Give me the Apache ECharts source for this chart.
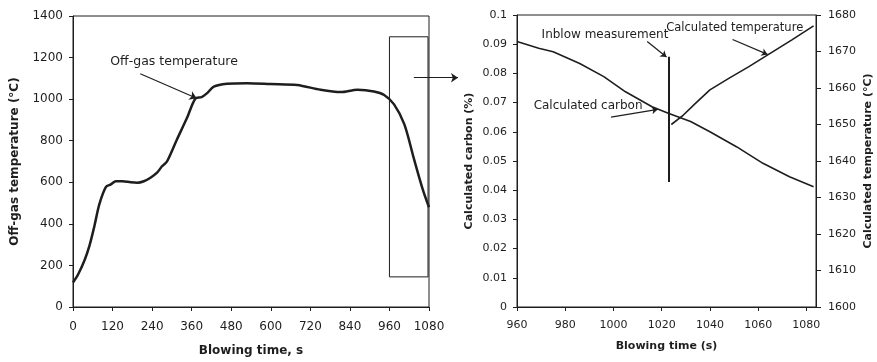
<!DOCTYPE html>
<html>
<head>
<meta charset="utf-8">
<script src="https://cdn.jsdelivr.net/npm/echarts@6/dist/echarts.min.js"></script>
<style>
  html, body { margin: 0; padding: 0; background: #fff; }
  #chart { width: 877px; height: 362px; }
</style>
</head>
<body>
<div id="chart"></div>
<script>
// left panel: off-gas temperature during the whole blow
const blowTime = [0, 15, 35, 50, 65, 80, 100, 115, 130, 150, 175, 195, 215, 235, 255, 270, 285, 315, 346, 371, 390, 407, 427, 467, 528, 600, 680, 751, 812, 863, 913, 944, 974, 1005, 1035, 1061, 1080];
const offgasTemp = [118, 155, 225, 295, 390, 495, 578, 590, 605, 605, 600, 598, 605, 622, 646, 677, 700, 805, 910, 1002, 1010, 1029, 1060, 1074, 1077, 1073, 1068, 1045, 1034, 1045, 1037, 1020, 975, 880, 709, 566, 480];
const zoomBox = [[960, 145], [1077, 1300]];

// right panel: end of blow, calculated carbon and temperature
const carbonTime = [960, 969, 975, 986, 996, 1005, 1016, 1023, 1032, 1040, 1051, 1062, 1073, 1083];
const carbon = [0.0909, 0.0886, 0.0874, 0.0834, 0.0789, 0.0737, 0.0686, 0.0663, 0.0635, 0.06, 0.0549, 0.0492, 0.0446, 0.0412];
const tempTime = [1024, 1029, 1034, 1040, 1048, 1056, 1065, 1074, 1083];
const calcTemp = [1650, 1652.6, 1655.8, 1659.5, 1662.7, 1665.8, 1669.5, 1673.2, 1677];
const inblowTime = 1023;
const inblowSpan = [0.0428, 0.0857];

const INK = "#1e1e1e";
const FONT = "DejaVu Sans";

const chart = echarts.init(document.getElementById("chart"));

function zip(xs, ys) {
  return xs.map((x, i) => [x, ys[i]]);
}

function arrow(from, to) {
  return { coords: [from, to] };
}

// no thousands separator on the axes
const plain = (v) => String(v);

const axisBase = {
  axisLine: { show: true, lineStyle: { color: INK, width: 1 } },
  axisTick: { show: true, length: 4, lineStyle: { color: INK } },
  splitLine: { show: false },
  nameLocation: "middle",
};

const option = {
  animation: false,
  textStyle: { fontFamily: FONT, color: INK },
  grid: [
    { left: 73, right: 448, top: 16, bottom: 54, show: true, borderColor: INK, borderWidth: 1 },
    { left: 517, right: 61, top: 15, bottom: 55, show: true, borderColor: INK, borderWidth: 1 },
  ],
  xAxis: [
    {
      ...axisBase,
      gridIndex: 0,
      type: "value",
      min: 0,
      max: 1080,
      interval: 120,
      name: "Blowing time, s",
      nameGap: 38,
      nameTextStyle: { fontFamily: FONT, fontWeight: "bold", fontSize: 12, color: INK },
      axisLabel: { fontFamily: FONT, fontSize: 12, color: INK, margin: 14, formatter: plain },
    },
    {
      ...axisBase,
      gridIndex: 1,
      type: "value",
      min: 960,
      max: 1084,
      interval: 20,
      name: "Blowing time (s)",
      nameGap: 34,
      nameTextStyle: { fontFamily: FONT, fontWeight: "bold", fontSize: 11, color: INK },
      axisLabel: { fontFamily: FONT, fontSize: 11, color: INK, margin: 13, showMaxLabel: false, formatter: plain },
    },
  ],
  yAxis: [
    {
      ...axisBase,
      gridIndex: 0,
      type: "value",
      min: 0,
      max: 1400,
      interval: 200,
      name: "Off-gas temperature (°C)",
      nameGap: 52,
      nameTextStyle: { fontFamily: FONT, fontWeight: "bold", fontSize: 12, color: INK },
      axisLabel: { fontFamily: FONT, fontSize: 12, color: INK, margin: 10, formatter: plain },
    },
    {
      ...axisBase,
      gridIndex: 1,
      type: "value",
      min: 0,
      max: 0.1,
      interval: 0.01,
      name: "Calculated carbon (%)",
      nameGap: 42,
      nameTextStyle: { fontFamily: FONT, fontWeight: "bold", fontSize: 11, color: INK },
      axisLabel: { fontFamily: FONT, fontSize: 11, color: INK, margin: 10 },
    },
    {
      ...axisBase,
      gridIndex: 1,
      type: "value",
      position: "right",
      min: 1600,
      max: 1680,
      interval: 10,
      name: "Calculated temperature (°C)",
      nameGap: 47,
      nameTextStyle: { fontFamily: FONT, fontWeight: "bold", fontSize: 11, color: INK },
      axisTick: { show: true, length: 5, lineStyle: { color: INK } },
      axisLabel: { fontFamily: FONT, fontSize: 11, color: INK, margin: 12, formatter: plain },
    },
  ],
  series: [
    {
      name: "Off-gas temperature",
      type: "line",
      xAxisIndex: 0,
      yAxisIndex: 0,
      data: zip(blowTime, offgasTemp),
      smooth: 0.3,
      symbol: "none",
      lineStyle: { color: INK, width: 2.5 },
      markArea: {
        silent: true,
        itemStyle: { color: "rgba(0,0,0,0)", borderColor: INK, borderWidth: 1 },
        data: [[{ coord: zoomBox[0] }, { coord: zoomBox[1] }]],
      },
    },
    {
      type: "lines",
      coordinateSystem: "cartesian2d",
      xAxisIndex: 0,
      yAxisIndex: 0,
      clip: false,
      silent: true,
      symbol: ["none", "arrow"],
      symbolSize: 7,
      lineStyle: { color: INK, width: 1.2, opacity: 1 },
      data: [arrow([204, 1122], [375, 1004]), arrow([1034, 1103], [1168, 1103])],
    },
    {
      name: "Calculated carbon",
      type: "line",
      xAxisIndex: 1,
      yAxisIndex: 1,
      data: zip(carbonTime, carbon),
      symbol: "none",
      lineStyle: { color: INK, width: 1.6 },
    },
    {
      name: "Calculated temperature",
      type: "line",
      xAxisIndex: 1,
      yAxisIndex: 2,
      data: zip(tempTime, calcTemp),
      symbol: "none",
      lineStyle: { color: INK, width: 1.6 },
    },
    {
      type: "lines",
      coordinateSystem: "cartesian2d",
      xAxisIndex: 1,
      yAxisIndex: 1,
      silent: true,
      symbol: "none",
      lineStyle: { color: INK, width: 2, opacity: 1 },
      data: [{ coords: [[inblowTime, inblowSpan[0]], [inblowTime, inblowSpan[1]]] }],
    },
    {
      type: "lines",
      coordinateSystem: "cartesian2d",
      xAxisIndex: 1,
      yAxisIndex: 1,
      silent: true,
      symbol: ["none", "arrow"],
      symbolSize: 6,
      lineStyle: { color: INK, width: 1.2, opacity: 1 },
      data: [arrow([1014, 0.0909], [1022, 0.0856]), arrow([999, 0.065], [1018.4, 0.0677])],
    },
    {
      type: "lines",
      coordinateSystem: "cartesian2d",
      xAxisIndex: 1,
      yAxisIndex: 2,
      silent: true,
      symbol: ["none", "arrow"],
      symbolSize: 6,
      lineStyle: { color: INK, width: 1.2, opacity: 1 },
      data: [arrow([1049.4, 1673.3], [1063.9, 1669.2])],
    },
  ],
};

chart.setOption(option);

// callout texts, placed through the axes
function label(finder, pt, text, size) {
  const [x, y] = chart.convertToPixel(finder, pt);
  return {
    type: "text",
    x: x,
    y: y,
    silent: true,
    style: { text: text, fill: INK, fontFamily: FONT, fontSize: size, verticalAlign: "middle" },
  };
}

const left = { xAxisIndex: 0, yAxisIndex: 0 };
const carbonAxes = { xAxisIndex: 1, yAxisIndex: 1 };
const tempAxes = { xAxisIndex: 1, yAxisIndex: 2 };

chart.setOption({
  graphic: [
    label(left, [113, 1179], "Off-gas temperature", 12.5),
    label(carbonAxes, [970.2, 0.0932], "Inblow measurement", 12),
    label(carbonAxes, [966.9, 0.0688], "Calculated carbon", 12),
    label(tempAxes, [1021.9, 1676.5], "Calculated temperature", 11.5),
  ],
});
</script>
</body>
</html>
